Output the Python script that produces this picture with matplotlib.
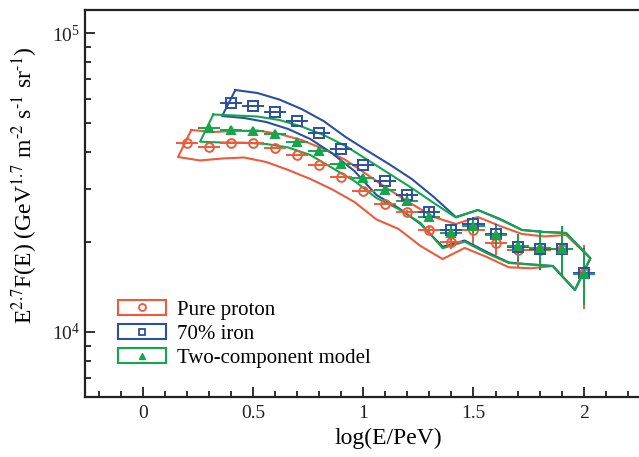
import numpy as np
import matplotlib
matplotlib.use('Agg')
import matplotlib.pyplot as plt
from matplotlib.patches import Patch
from matplotlib.lines import Line2D
from matplotlib.legend_handler import HandlerTuple
from matplotlib.ticker import LogLocator, NullFormatter

plt.rcParams['font.family'] = ['Liberation Serif', 'DejaVu Serif']
plt.rcParams['mathtext.fontset'] = 'stix'

# bin centres, log(E/PeV)
x_all = [0.2, 0.3, 0.4, 0.5, 0.6, 0.7, 0.8, 0.9, 1.0, 1.1,
         1.2, 1.3, 1.4, 1.5, 1.6, 1.7, 1.8, 1.9, 2.0]

# pure proton
proton = [42870, 41570, 42870, 42870, 41250, 39080, 36180, 32990, 29620, 26800,
          25200, 21940, 20000, 21940, 19850, 18810, 18810, 18960, 15750]
proton_err = [0.01, 0.01, 0.01, 0.01, 0.01, 0.01, 0.01, 0.01, 0.01, 0.01,
              0.015, 0.03, 0.055, 0.10, 0.09, 0.12, 0.12, 0.16, 0.24]

# 70% iron (from 0.4)
iron = [58330, 57000, 54420, 50780, 46300, 40930, 36180, 31990, 28720, 25200,
        21940, 22970, 21270, 19240, 18960, 18960, 15750]
iron_err = [0.01, 0.01, 0.01, 0.01, 0.01, 0.01, 0.01, 0.01, 0.015, 0.03,
            0.05, 0.055, 0.08, 0.10, 0.15, 0.19, 0.21]

# two-component model (from 0.3)
twocomp = [48110, 47380, 47020, 45940, 43200, 40310, 36460, 32740, 29850, 27420,
           24240, 21440, 22620, 21110, 19390, 19100, 18960, 15630]
twocomp_err = [0.01, 0.01, 0.01, 0.01, 0.01, 0.01, 0.01, 0.01, 0.01, 0.015,
               0.03, 0.055, 0.055, 0.08, 0.10, 0.15, 0.19, 0.21]

# systematic bands: upper edge and lower edge
band_up_x = [0.22, 0.32, 0.42, 0.52, 0.62, 0.72, 0.82, 0.92, 1.02, 1.12,
             1.22, 1.32, 1.42, 1.52, 1.62, 1.72, 1.82, 1.92, 2.03]
band_lo_x = [0.16, 0.26, 0.36, 0.46, 0.56, 0.66, 0.76, 0.86, 0.96, 1.06,
             1.16, 1.26, 1.36, 1.46, 1.56, 1.66, 1.76, 1.86, 1.96]

proton_up = [47380, 46660, 47020, 47200, 45940, 43870, 40930, 37610, 33500, 29850,
             26800, 24240, 22970, 24240, 22620, 21270, 20870, 21110, 17640]
proton_lo = [38490, 37470, 38040, 38340, 37030, 34820, 32490, 29960, 27210, 23790,
             22110, 19390, 17540, 19100, 17820, 16460, 16330, 16620, 13820]

iron_up = [64470, 63000, 59900, 55700, 50780, 44890, 40310, 36320, 32490, 28280,
           24240, 25590, 23880, 21940, 21600, 21440, 17640]
iron_lo = [52770, 51970, 50390, 47740, 44200, 39540, 34550, 28720, 25990, 22970,
           19290, 20230, 18520, 17080, 16820, 16620, 13820]

twocomp_up = [53390, 52980, 52570, 51170, 48670, 45590, 41890, 37610, 33760, 30310,
              27000, 24150, 25590, 23790, 21940, 21600, 21440, 17640]
twocomp_lo = [43300, 43030, 42970, 42540, 41410, 39080, 35360, 31990, 28060, 25790,
              23150, 19060, 20050, 18340, 17010, 16820, 16620, 13820]

labels = ['Pure proton', '70% iron', 'Two-component model']
c_red = '#ee5a3a'
c_blue = '#2b4fa3'
c_green = '#13a64b'


def draw_band(ax, start, up, lo, color):
    xs = band_up_x[start:] + band_lo_x[start:][::-1] + [band_up_x[start]]
    ys = up + lo[::-1] + [up[0]]
    ax.plot(xs, ys, color=color, lw=1.5, zorder=2)


def draw_points(ax, start, y, rel, color, marker, filled, ms):
    y = np.array(y, dtype=float)
    yerr = y * np.array(rel)
    ax.errorbar(x_all[start:], y, xerr=0.05, yerr=yerr, fmt=marker, ms=ms,
                mfc=color if filled else 'none', mec=color, mew=1.4,
                ecolor=color, elinewidth=1.4, capsize=0, zorder=3)


fig = plt.figure(figsize=(6.39, 4.57), dpi=100)
ax = fig.add_axes([0.133, 0.1313, 0.9496, 0.8468])

draw_band(ax, 0, proton_up, proton_lo, c_red)
draw_band(ax, 2, iron_up, iron_lo, c_blue)
draw_band(ax, 1, twocomp_up, twocomp_lo, c_green)

draw_points(ax, 0, proton, proton_err, c_red, 'o', False, 6.3)
draw_points(ax, 2, iron, iron_err, c_blue, 's', False, 7)
draw_points(ax, 1, twocomp, twocomp_err, c_green, '^', True, 5.8)

ax.set_yscale('log')
ax.set_xlim(-0.262, 2.49)
ax.set_ylim(6060, 119400)
ax.set_xticks([0, 0.5, 1, 1.5, 2])
ax.set_xticklabels(['0', '0.5', '1', '1.5', '2'])
ax.set_xticks(np.arange(-0.2, 2.45, 0.1), minor=True)
ax.yaxis.set_major_locator(LogLocator(base=10))
ax.yaxis.set_minor_locator(LogLocator(base=10, subs=np.arange(2, 10)))
ax.yaxis.set_minor_formatter(NullFormatter())

ax.tick_params(which='both', direction='in', top=False, right=False,
               labelsize=14, width=1.3, colors='#222222')
ax.tick_params(which='major', length=7)
ax.tick_params(which='minor', length=4)
ax.tick_params(axis='x', pad=6)
for s in ax.spines.values():
    s.set_linewidth(1.6)
    s.set_color('#222222')

ax.set_xlabel('log(E/PeV)', fontsize=17)
ax.set_ylabel(r'E$^{2.7}$F(E) (GeV$^{1.7}$ m$^{\text{-}2}$ s$^{\text{-}1}$ sr$^{\text{-}1}$)',
              fontsize=17)
ax.yaxis.set_label_coords(-0.074, 0.548)

handles = [
    (Patch(facecolor='white', edgecolor=c_red, lw=1.5),
     Line2D([], [], ls='none', marker='o', ms=5, mfc='none', mec=c_red, mew=1.3)),
    (Patch(facecolor='white', edgecolor=c_blue, lw=1.5),
     Line2D([], [], ls='none', marker='s', ms=5, mfc='none', mec=c_blue, mew=1.3)),
    (Patch(facecolor='white', edgecolor=c_green, lw=1.5),
     Line2D([], [], ls='none', marker='^', ms=4.5, mfc=c_green, mec=c_green)),
]
ax.legend(handles, labels, handler_map={tuple: HandlerTuple(ndivide=1)},
          loc='lower left', bbox_to_anchor=(0.024, 0.027), frameon=False,
          fontsize=15, handlelength=2.3, handleheight=0.68,
          labelspacing=0.22, handletextpad=0.5)

plt.savefig('out.png', dpi=100)
